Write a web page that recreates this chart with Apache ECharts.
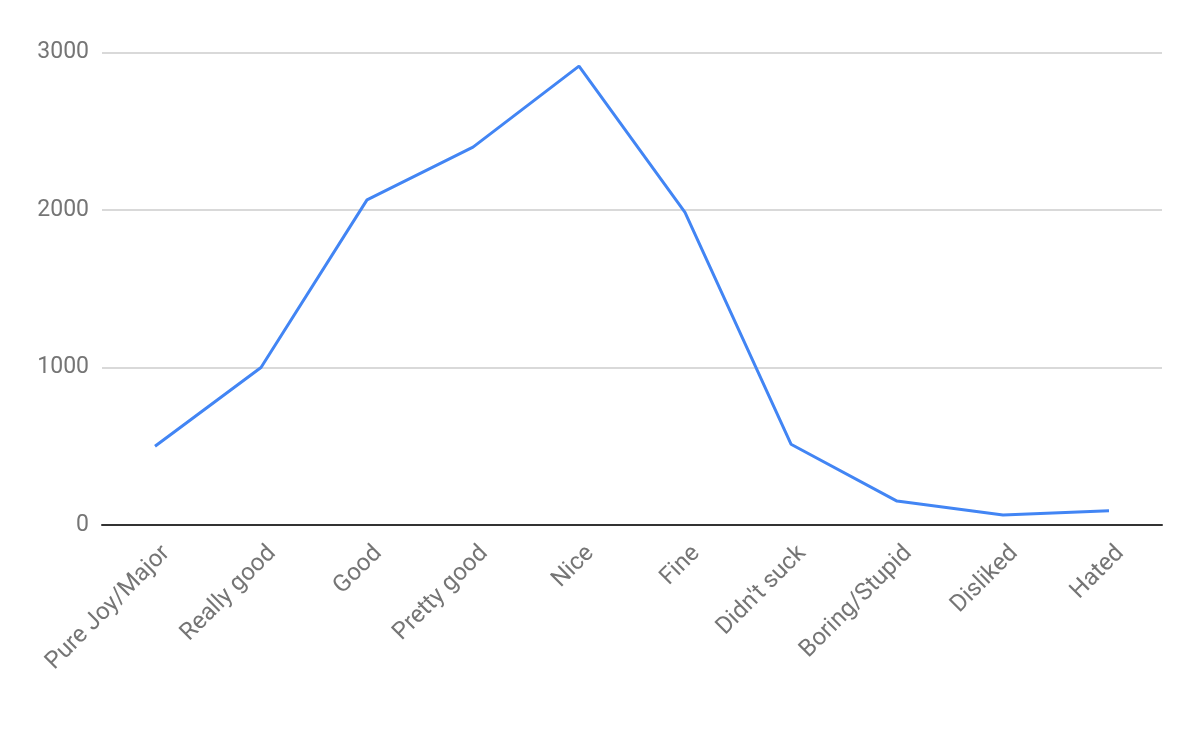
<!DOCTYPE html>
<html><head><meta charset="utf-8">
<script src="https://cdn.jsdelivr.net/npm/echarts@6/dist/echarts.min.js"></script>
<style>html,body{margin:0;padding:0;background:#fff}#c{width:1200px;height:742px}</style>
</head><body><div id="c"></div>
<script>
const categories = ["Pure Joy/Major","Really good","Good","Pretty good","Nice","Fine","Didn't suck","Boring/Stupid","Disliked","Hated"];
const values = [500, 1000, 2065, 2400, 2915, 1985, 513, 152, 64, 91];
const yTicks = [0, 1000, 2000, 3000];

const chart = echarts.init(document.getElementById('c'), null, {renderer:'canvas'});
chart.setOption({
  animation:false,
  backgroundColor:'#fff',
  grid:{left:102, right:38, top:52.7, bottom:217, containLabel:false},
  xAxis:{
    type:'category', data:categories, boundaryGap:true,
    axisLine:{show:true, lineStyle:{color:'#333', width:2}},
    axisTick:{show:false},
    axisLabel:{rotate:45, color:'#757575', fontFamily:'Roboto', fontSize:24, margin:36, interval:0,
      padding:[0,-16,0,0]}
  },
  yAxis:{
    type:'value', min:yTicks[0], max:yTicks[yTicks.length-1], interval:1000,
    axisLine:{show:false}, axisTick:{show:false},
    splitLine:{lineStyle:{color:'#ccc', width:1.5}},
    axisLabel:{color:'#757575', fontFamily:'Roboto', fontSize:23, margin:13, formatter:function(v){return String(v);}}
  },
  series:[{
    type:'line', data:values, symbol:'none',
    lineStyle:{color:'#4285F4', width:3}
  }]
});
</script></body></html>
